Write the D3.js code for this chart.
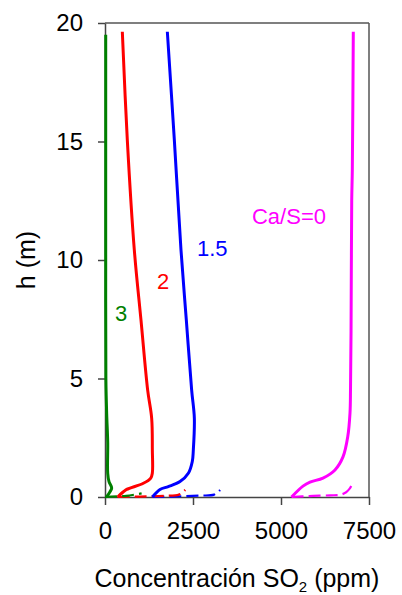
<!DOCTYPE html>
<html><head><meta charset="utf-8">
<script src="https://cdn.jsdelivr.net/npm/d3@7"></script>
<style>html,body{margin:0;padding:0;background:#fff;} svg{display:block;font-family:"Liberation Sans",Arial,sans-serif;}</style>
</head><body><svg id="c" width="402" height="595"></svg>
<script>
// Data: [concentration (ppm), h (m)]
const seriesNames = ["Ca/S=0", "1.5", "2", "3"];
const colors = ["#ff00ff", "#0000ff", "#ff0000", "#008000"];
const magentaSolid = [[5300,0],[5625,0.46],[5824,0.63],[6193,0.80],[6534,1.14],[6761,1.69],[6895,2.53],[6960,3.54],[6975,4.6],[6990,7],[7009,12.5],[7026,13.8],[7054,19.63]];
const magentaDashed = [[5300,0],[5800,0.04],[6400,0.07],[6700,0.1],[6850,0.2],[6950,0.35],[7000,0.48]];
const blueSolid = [[1345,0],[1563,0.32],[1799,0.44],[2131,0.65],[2367,1.0],[2480,1.5],[2509,1.98],[2538,3.33],[2462,4.51],[2310,7.47],[2159,10.42],[1970,15.06],[1771,19.63]];
const blueDashed = [[1345,0],[1900,0.02],[2700,0.06],[3100,0.1],[3270,0.3]];
const redSolid = [[360,0],[521,0.22],[616,0.32],[1089,0.58],[1300,0.8],[1345,1.01],[1345,1.98],[1326,3.32],[1212,4.51],[1022,7.47],[833,10.42],[634,15.06],[492,19.63]];
const redDashed = [[360,0],[1000,0.02],[1700,0.05],[2100,0.1],[2280,0.3]];
const greenSolid = [[50,0],[90,0.1],[142,0.22],[190,0.38],[114,0.65],[77,1.0],[77,2.3],[48,3.5],[25,5],[20,10],[20,15],[20,19.5]];
const greenDashed = [[0,0],[600,0.05],[1040,0.15]];
const xTicks = [0, 2500, 5000, 7500];
const yTicks = [0, 5, 10, 15, 20];
const labels = [["Ca/S=0", 4176, 11.52], ["1.5", 2614, 10.17], ["2", 1477, 8.78], ["3", 284, 7.43]];

const svg = d3.select("#c");
const L = 105, R = 369, T = 23, B = 497;
const x = d3.scaleLinear().domain([0, 7500]).range([L, R]);
const y = d3.scaleLinear().domain([0, 20]).range([B, T]);
const axisCol = "#444";

// frame top/right
svg.append("line").attr("x1", L).attr("x2", R).attr("y1", T).attr("y2", T).attr("stroke", "#555").attr("stroke-width", 1.5);
svg.append("line").attr("x1", R).attr("x2", R).attr("y1", T).attr("y2", B).attr("stroke", "#555").attr("stroke-width", 1.5);

const gx = svg.append("g").attr("transform", `translate(0,${B})`)
  .call(d3.axisBottom(x).tickValues(xTicks).tickSizeOuter(0).tickSizeInner(8).tickPadding(17).tickFormat(d3.format("d")));
const gy = svg.append("g").attr("transform", `translate(${L},0)`)
  .call(d3.axisLeft(y).tickValues(yTicks).tickSizeOuter(0).tickSizeInner(7).tickPadding(15).tickFormat(d3.format("d")));
[gx, gy].forEach(g => {
  g.select(".domain").attr("stroke", axisCol).attr("stroke-width", 1.5);
  g.selectAll(".tick line").attr("stroke", axisCol).attr("stroke-width", 1.5);
  g.selectAll(".tick text").attr("fill", "#000").style("font-size", "24px").style("font-family", '"Liberation Sans",Arial,sans-serif');
});

const line = d3.line().x(d => x(d[0])).y(d => y(d[1])).curve(d3.curveCatmullRom.alpha(0.5));
const solids = [magentaSolid, blueSolid, redSolid, greenSolid];
const dashed = [magentaDashed, blueDashed, redDashed, greenDashed];
dashed.forEach((s, i) => {
  svg.append("path").attr("d", line(s)).attr("fill", "none").attr("stroke", colors[i]).attr("stroke-width", 2.2).attr("stroke-dasharray", "12,5");
});
solids.forEach((s, i) => {
  svg.append("path").attr("d", line(s)).attr("fill", "none").attr("stroke", colors[i]).attr("stroke-width", 3).attr("stroke-linejoin", "round");
});

labels.forEach((l, i) => {
  svg.append("text").attr("x", x(l[1])).attr("y", y(l[2])).attr("fill", colors[i]).style("font-size", "22px").text(l[0]);
});

// axis titles
const xt = svg.append("text").attr("x", 237).attr("y", 587).attr("text-anchor", "middle").style("font-size", "25px").attr("fill", "#000");
xt.append("tspan").text("Concentración SO");
xt.append("tspan").attr("dy", 5).style("font-size", "15px").text("2");
xt.append("tspan").attr("dy", -5).text(" (ppm)");
svg.append("text").attr("transform", "translate(35,260) rotate(-90)").attr("text-anchor", "middle").style("font-size", "25px").attr("fill", "#000").text("h (m)");
</script></body></html>
